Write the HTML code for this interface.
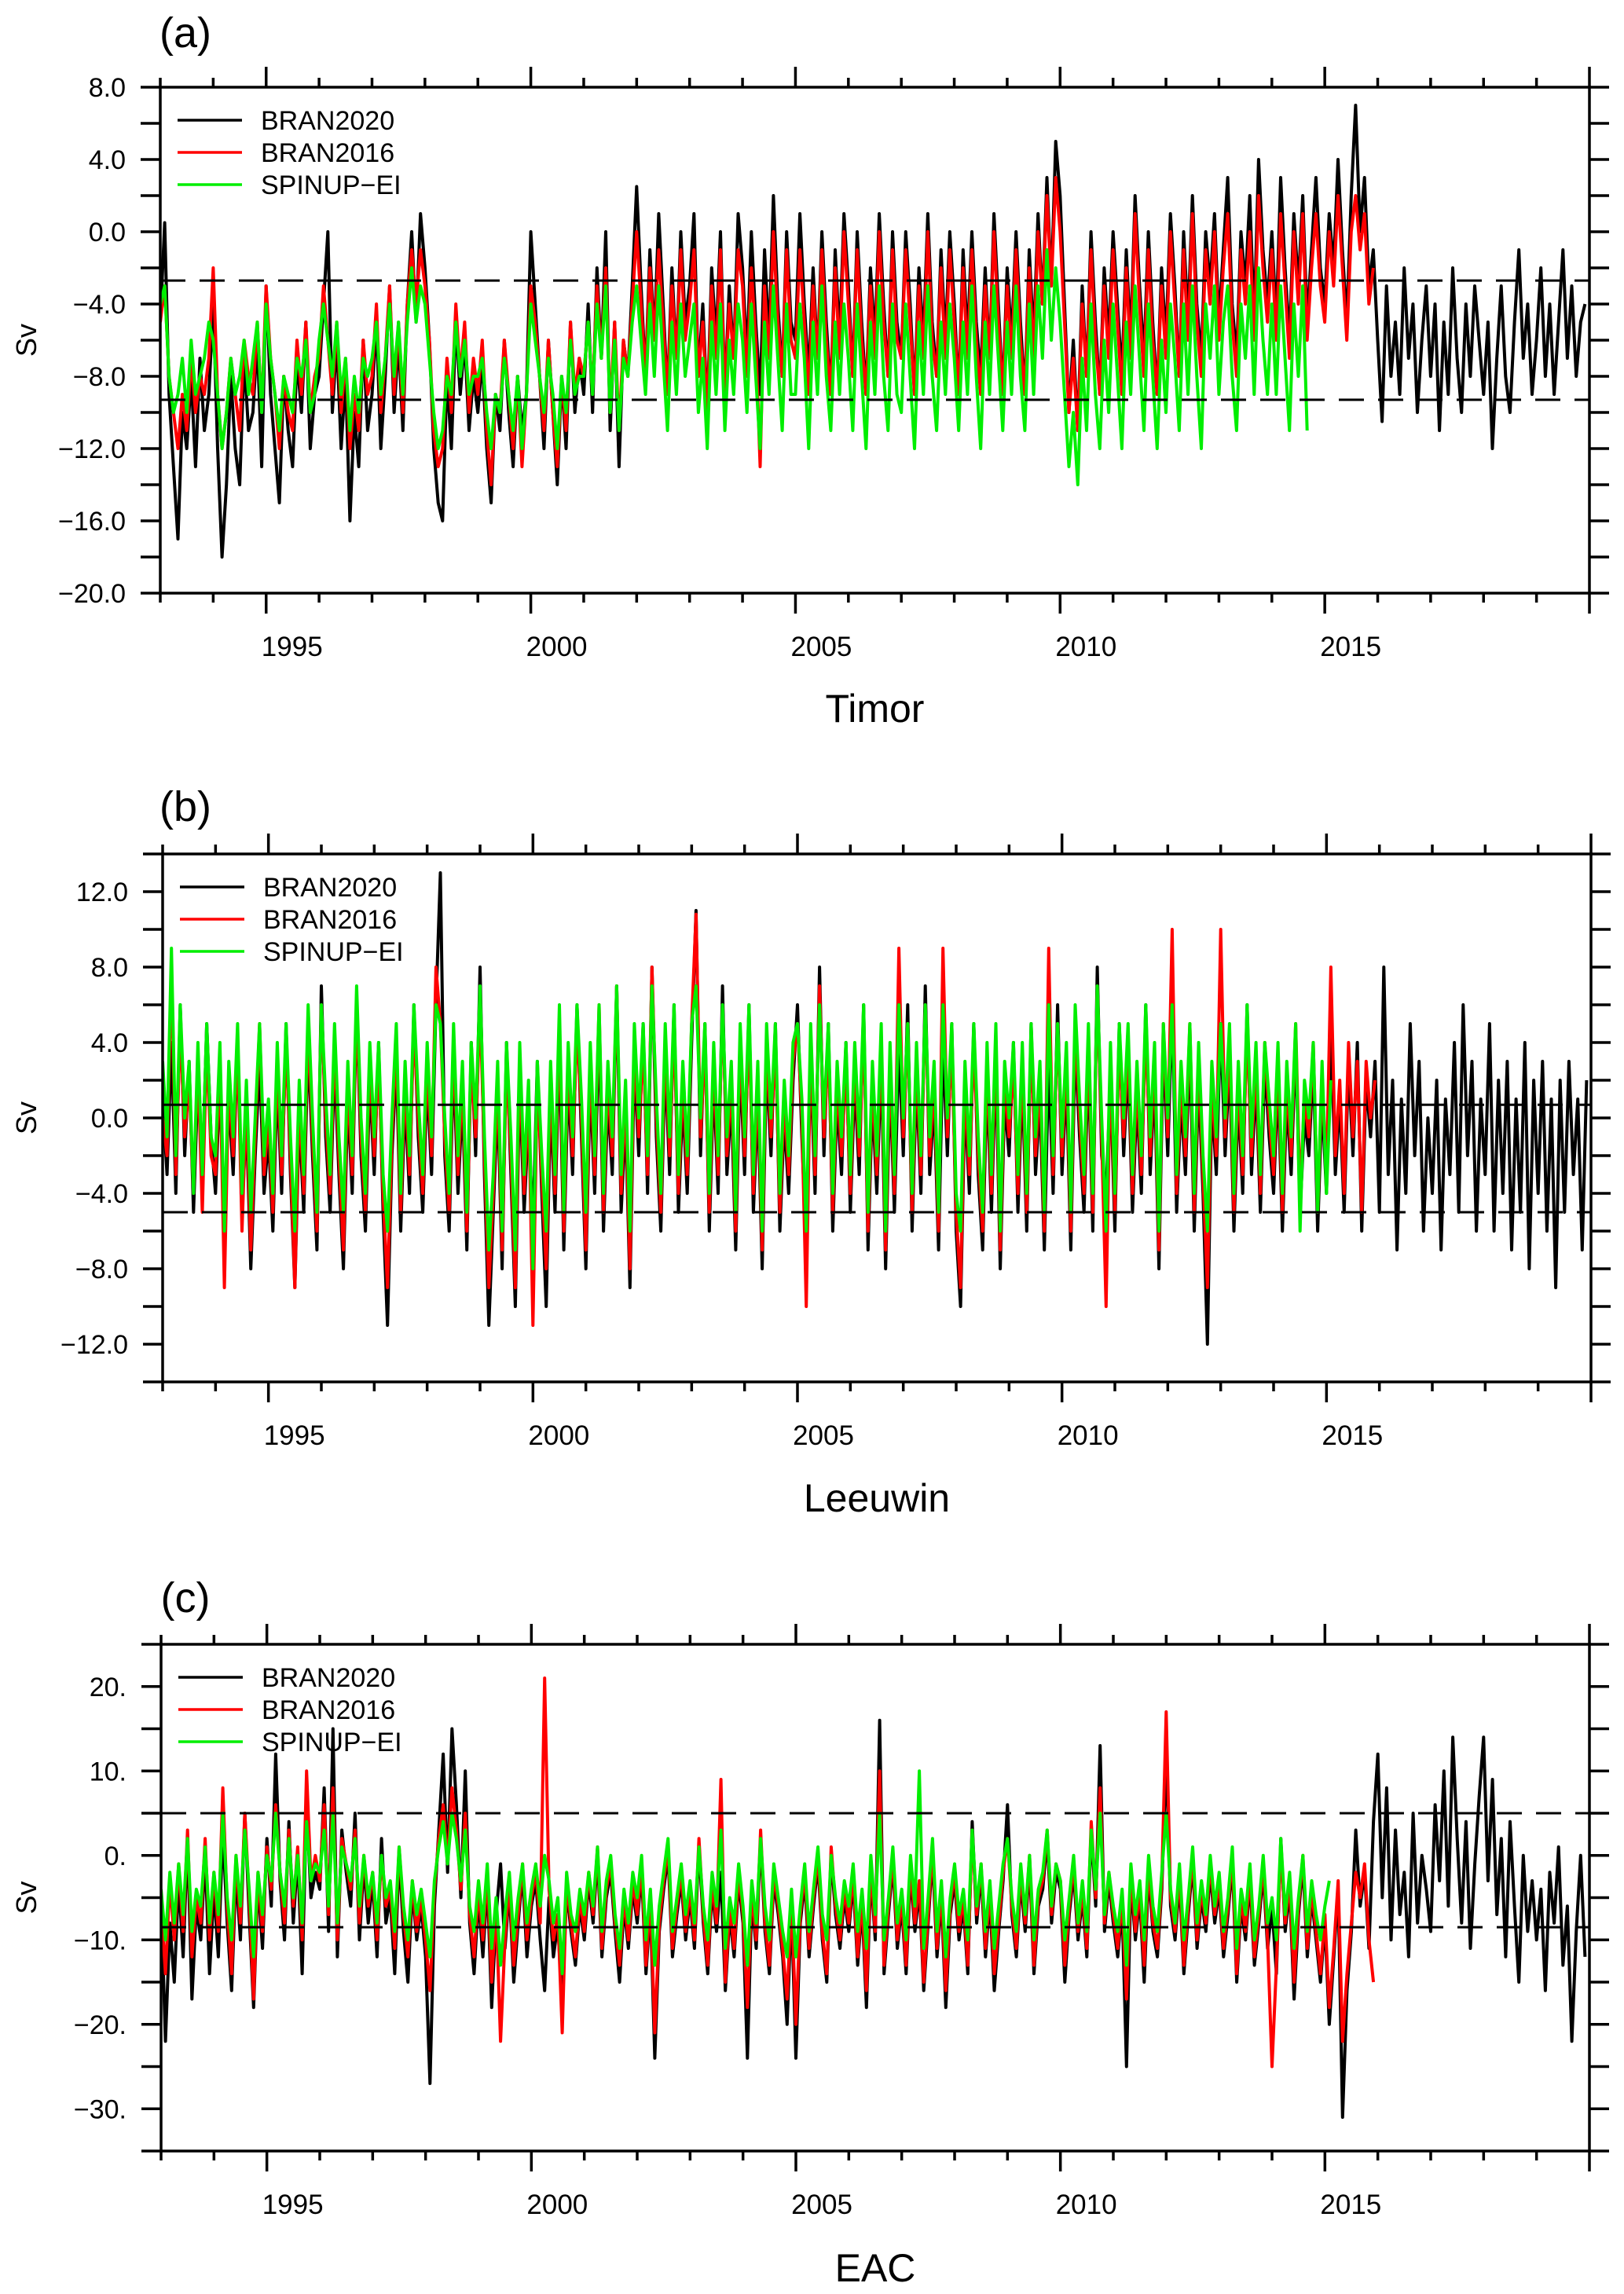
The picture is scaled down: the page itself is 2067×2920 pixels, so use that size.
<!DOCTYPE html>
<html><head><meta charset="utf-8"><style>
html,body{margin:0;padding:0;background:#fff;}
svg{display:block;font-family:"Liberation Sans",sans-serif;}
</style></head><body>
<svg id="fig" width="2067" height="2920" viewBox="0 0 2067 2920" xmlns="http://www.w3.org/2000/svg"></svg>
<script>
// ---------- Panel (a) Timor ----------
const timorBran2020 = [
-5,0.5,-9,-13,-17,-10,-12,-8,-13,-7,-11,-9,
-4,-12,-18,-14,-8,-12,-14,-7,-11,-10,-6,-13,
-3,-9,-12,-15,-8,-11,-13,-7,-10,-5,-12,-9,
-8,-4,0,-10,-6,-12,-8,-16,-10,-13,-6,-11,
-9,-5,-12,-8,-3,-10,-6,-11,-4,0,-5,1,
-2,-6,-12,-15,-16,-8,-12,-5,-9,-6,-11,-8,
-10,-7,-12,-15,-9,-11,-6,-10,-13,-8,-11,-9,
0,-4,-8,-12,-6,-10,-14,-8,-12,-5,-10,-7,
-9,-4,-10,-2,-7,0,-11,-5,-13,-6,-8,-3,
2.5,-3,-8,-1,-6,1,-4,-9,-2,-7,0,-5,
-3,1,-8,-4,-10,-2,-6,0,-9,-3,-7,1,
-2,-7,0,-5,-9,-1,-6,2,-4,-8,0,-5,
-6,1,-4,-8,-2,-7,0,-5,-9,-1,-6,1,
-3,-8,0,-5,-9,-2,-6,1,-4,-8,0,-5,
-7,0,-4,-9,-2,-6,1,-5,-8,-1,-6,0,
-4,-9,-1,-6,0,-5,-8,-2,-7,1,-4,-9,
-2,-6,0,-5,-9,-1,-6,1,-4,3,-3,5,
2,-4,-10,-6,-11,-3,-8,0,-5,-9,-2,-6,
0,-4,-8,-1,-6,2,-3,-7,0,-5,-9,-2,
-6,1,-3,-8,0,-5,2,-4,-7,0,-3,1,
-5,-1,3,-4,-7,0,-3,2,-5,4,-1,-4,
0,-5,3,-2,-6,1,-3,2,-5,-1,3,-2,
-4,1,-2,4,-1,-5,2,7,0,3,-3,-1,
-6,-10.5,-3,-8,-5,-9,-2,-7,-4,-10,-6,-3,
-8,-4,-11,-5,-9,-2,-7,-10,-4,-8,-3,-6,
-9,-5,-12,-7,-3,-8,-10,-5,-1,-7,-4,-9,
-6,-2,-8,-4,-9,-5,-1,-7,-3,-8,-5,-4];
const timorBran2016 = [
-5,-3,-8,-10,-12,-9,-11,-7,-10,-8,-9,-7,
-2,-9,-12,-10,-7,-9,-11,-6,-8,-9,-5,-10,
-3,-7,-9,-12,-8,-10,-11,-6,-9,-5,-10,-8,
-7,-3,-6,-9,-5,-10,-7,-12,-9,-11,-6,-9,
-8,-4,-10,-7,-3,-9,-5,-10,-4,-1,-4,-1,
-3,-6,-11,-13,-12,-7,-10,-4,-8,-5,-10,-7,
-9,-6,-11,-14,-9,-10,-6,-9,-12,-8,-13,-9,
-3,-5,-8,-11,-6,-10,-13,-8,-11,-5,-9,-7,
-8,-5,-9,-3,-7,-2,-10,-5,-11,-6,-8,-4,
0,-4,-8,-2,-6,-1,-5,-9,-3,-7,-1,-6,
-4,-1,-8,-5,-10,-3,-7,-1,-9,-4,-7,-1,
-3,-8,-2,-6,-13,-3,-7,0,-5,-8,-1,-6,
-7,-1,-5,-9,-3,-7,-1,-6,-9,-2,-7,0,
-4,-8,-1,-6,-9,-3,-7,0,-5,-8,-1,-6,
-7,-1,-5,-9,-3,-7,0,-6,-8,-2,-7,-1,
-5,-9,-2,-7,-1,-6,-9,-3,-7,0,-5,-9,
-3,-7,-1,-6,-9,-2,-7,0,-4,2,-3,3,
0,-5,-10,-7,-11,-4,-8,-1,-6,-9,-3,-7,
-1,-5,-9,-2,-7,1,-4,-8,-1,-6,-9,-3,
-7,0,-4,-8,-1,-6,1,-5,-8,-1,-4,0,
-6,-2,1,-5,-8,-1,-4,0,-6,2,-2,-5,
-1,-6,1,-3,-7,0,-4,1,-6,-2,1,-3,
-5,0,-3,2,-2,-6,0,2,-1,1,-4,-2];
const timorSpinup = [
-4,-3,-8,-10,-9,-7,-10,-6,-9,-8,-7,-5,
-6,-9,-12,-10,-7,-9,-8,-6,-9,-7,-5,-10,
-4,-7,-9,-11,-8,-9,-10,-7,-8,-6,-10,-9,
-6,-4,-6,-8,-5,-9,-7,-11,-8,-10,-7,-8,
-7,-5,-9,-7,-4,-8,-5,-9,-5,-2,-5,-3,
-4,-7,-10,-12,-11,-8,-9,-5,-8,-6,-9,-8,
-8,-7,-10,-12,-9,-10,-7,-9,-11,-8,-12,-9,
-4,-6,-8,-10,-7,-9,-12,-8,-10,-6,-9,-8,
-8,-5,-9,-4,-7,-3,-10,-6,-11,-7,-8,-5,
-3,-6,-9,-4,-8,-3,-7,-11,-5,-9,-4,-8,
-6,-4,-10,-7,-12,-5,-9,-4,-11,-6,-9,-4,
-6,-10,-4,-8,-12,-5,-9,-3,-7,-11,-4,-9,
-9,-4,-7,-12,-5,-9,-3,-8,-11,-5,-9,-4,
-7,-11,-4,-8,-12,-5,-9,-3,-8,-11,-4,-9,
-10,-4,-8,-12,-5,-9,-3,-8,-11,-5,-9,-4,
-7,-11,-5,-9,-3,-8,-12,-5,-9,-3,-7,-11,
-5,-9,-3,-8,-11,-4,-9,-3,-7,-1,-6,-2,
-5,-9,-13,-10,-14,-7,-11,-4,-9,-12,-6,-10,
-4,-8,-12,-5,-9,-3,-7,-11,-4,-8,-12,-6,
-10,-4,-7,-11,-4,-9,-3,-8,-12,-4,-7,-3,
-9,-5,-3,-8,-11,-4,-7,-3,-9,-2,-6,-9,
-4,-9,-3,-7,-11,-4,-8,-3,-11];
const timorMeanLines = [-2.7, -9.3];
const timorTicks = ["8.0","4.0","0.0","-4.0","-8.0","-12.0","-16.0","-20.0"];

// ---------- Panel (b) Leeuwin ----------
const leeuwinBran2020 = [
1,-3,4,-4,6,-2,3,-5,2,-3,5,-1,
-4,2,-6,1,-3,4,-5,0,-8,-2,3,-4,
-1,-6,2,-4,5,-3,-9,0,-5,4,-2,-7,
7,-1,-5,3,-3,-8,1,-4,6,-2,-6,2,
-3,4,-5,-11,-2,3,-6,1,-4,6,-1,-5,
2,-3,6,13,-2,-6,3,-4,1,-7,4,-2,
8,-3,-11,-5,1,-8,4,-3,-10,2,-5,0,
-6,3,-4,-10,1,-5,4,-7,2,-3,6,-1,
-8,2,-4,5,-6,1,-3,7,-5,0,-9,3,
-2,5,-4,8,-1,-6,3,-3,6,-5,1,-4,
4,11,-2,5,-6,2,-4,7,-3,1,-7,3,
-3,6,-5,1,-8,3,-2,5,-6,0,-4,2,
6,-1,-7,3,-4,8,-2,5,-6,1,-3,4,
-5,2,-3,6,-7,1,-4,3,-8,2,-5,4,
-2,6,-6,2,-4,7,-3,1,-7,4,-2,5,
-6,-10,1,-4,5,-3,-7,2,-5,3,-8,1,
-2,4,-5,2,-6,5,-3,1,-7,3,-4,6,
-3,2,-7,4,-1,-5,3,-6,8,-2,-4,2,
-6,5,-2,3,-5,1,-4,6,-3,2,-8,4,
-2,6,-5,1,-3,4,-6,2,-4,-12,1,-3,
5,-2,3,-6,1,-4,6,-3,2,-5,3,-1,
-4,2,-6,1,-3,4,-5,0,-2,3,-6,1,
-4,5,-3,1,-5,3,-2,4,-6,2,-1,3,
-5,8,-3,2,-7,1,-4,5,-2,3,-6,0,
-4,2,-7,1,-3,4,-5,6,-2,3,-6,1,
-3,5,-6,2,-4,3,-7,1,-5,4,-8,2,
-4,3,-6,1,-9,2,-5,3,-3,1,-7,2];
const leeuwinBran2016 = [
0,-2,8,-3,5,-1,2,-4,3,-5,4,-2,
-3,3,-9,2,-2,4,-6,1,-7,-1,5,-3,
0,-5,3,-3,4,-2,-9,1,-4,5,-1,-6,
6,0,-4,4,-2,-7,2,-3,6,-1,-5,3,
-2,3,-4,-9,-1,4,-5,2,-3,5,0,-4,
3,-2,8,5,-1,-5,4,-3,2,-6,3,-1,
6,-2,-9,-4,2,-7,3,-2,-9,3,-4,1,
-11,2,-3,-8,2,-4,5,-6,3,-2,5,0,
-7,3,-3,6,-5,2,-2,7,-4,1,-8,4,
-1,4,-3,8,0,-5,4,-2,5,-4,2,-3,
5,10.8,-1,4,-5,3,-3,6,-2,2,-6,4,
-2,5,-4,2,-7,4,-1,4,-5,1,-3,3,
5,0,-10,4,-3,7,-1,4,-5,2,-2,3,
-4,3,-2,5,-6,2,-3,4,-7,3,-4,9,
-1,5,-5,3,-3,6,-2,2,-6,9,-1,4,
-5,-9,2,-3,4,-2,-6,3,-4,4,-7,2,
-1,3,-4,3,-5,4,-2,2,-6,9,-3,5,
-2,3,-6,5,0,-4,4,-5,7,-1,-10,3,
-5,4,-1,4,-4,2,-3,5,-2,3,-7,5,
-1,10,-4,2,-2,5,-5,3,-3,-9,2,-2,
10,-1,4,-5,2,-3,5,-2,3,-4,4,0,
-3,3,-5,2,-2,5,-4,1,-1,4,-5,2,
-3,8,-2,2,-4,4,-1,3,-5,3,0,2];
const leeuwinSpinup = [
3,-1,9,-2,6,0,3,-4,4,-3,5,-1,
-2,4,-6,3,-1,5,-4,2,-5,0,5,-2,
1,-4,4,-2,5,-1,-6,2,-3,6,0,-5,
6,1,-3,5,-1,-5,3,-2,7,0,-4,4,
-1,4,-3,-6,0,5,-4,3,-2,6,1,-3,
4,-1,6,5,0,-4,5,-2,3,-5,4,0,
7,-1,-7,-3,3,-6,4,-1,-7,4,-3,2,
-8,3,-2,-6,3,-3,6,-5,4,-1,6,1,
-5,4,-2,6,-4,3,-1,7,-3,2,-6,5,
0,5,-2,7,1,-4,5,-1,6,-3,3,-2,
5,7,0,5,-4,4,-2,6,-1,3,-5,5,
-1,6,-3,3,-6,5,0,5,-4,2,-2,4,
5,1,-6,5,-2,6,0,5,-4,3,-1,4,
-3,4,-1,6,-5,3,-2,5,-6,4,-3,6,
0,5,-4,4,-2,6,-1,3,-5,6,0,5,
-4,-6,3,-2,5,-1,-5,4,-3,5,-6,3,
0,4,-3,4,-4,5,-1,3,-5,6,-2,5,
-1,4,-5,6,1,-3,5,-4,7,0,-6,4,
-4,5,0,5,-3,3,-2,6,-1,4,-6,5,
0,6,-3,3,-1,5,-4,4,-2,-6,3,-1,
5,0,5,-4,3,-2,6,-1,4,-3,4,1,
-2,4,-4,3,-1,5,-6,2,0,4,-5,3,
-4,2];
const leeuwinMeanLines = [0.7, -5.0];
const leeuwinTicks = ["12.0","8.0","4.0","0.0","-4.0","-8.0","-12.0"];

// ---------- Panel (c) EAC ----------
const eacBran2020 = [
-5,-22,-8,-15,-3,-12,2,-17,-6,-10,0,-14,
-4,-12,3,-8,-16,-2,-10,5,-7,-18,-3,-11,
2,-6,12,-3,-10,4,-8,0,-14,6,-5,-2,
-4,8,-9,15,-12,3,-2,-6,5,-10,-1,-8,
-3,-12,2,-8,-5,-14,0,-9,-15,-4,-10,-6,
-12,-27,-6,3,12,-2,15,6,-5,10,-8,-14,
-5,-12,-3,-18,-7,-1,-11,-4,-15,-8,-2,-12,
-6,-3,-10,-16,-5,-12,-8,-18,-4,-9,-13,-6,
-10,-3,-8,0,-12,-5,-2,-9,-15,-6,-11,-4,
-8,-2,-14,-6,-24,-9,-4,0,-12,-7,-3,-10,
-5,-11,1,-8,-14,-4,-9,-2,-16,-7,-12,-3,
-8,-24,-5,-11,2,-9,-14,-3,-7,-12,-20,-6,
-24,-8,-3,-12,-6,-1,-10,-15,0,-7,-11,-5,
-9,-3,-13,-6,-18,-2,-10,16,-14,-7,-1,-11,
-6,-14,-2,-9,-4,-16,-8,0,-12,-5,-18,-7,
-3,-10,-6,-14,4,-8,-2,-12,-5,-16,-9,-3,
6,-7,-12,-3,-9,-1,-14,-6,-4,2,-8,-2,
-4,-15,-7,-2,-10,-5,-12,3,-6,13,-9,-3,
-8,-12,-6,-25,-3,-10,-5,-15,-2,-9,-12,-4,
12,-6,-10,-3,-14,-7,-1,-11,-5,-9,-2,-8,
-4,-12,-7,-1,-15,-6,-10,-3,-13,-8,-2,-11,
-6,-14,2,-9,-4,-17,-7,-1,-12,-5,-10,-15,
-8,-20,-12,-4,-31,-16,-9,3,-6,-2,-11,4,
12,-5,8,-10,3,-7,-2,-12,5,-8,0,-4,
-9,6,-3,10,-6,14,2,-8,4,-11,-1,7,
14,-3,9,-7,2,-12,4,-6,-15,0,-9,-3,
-10,-4,-16,-2,-8,1,-13,-6,-22,-9,0,-12];
const eacBran2016 = [
-6,-14,-3,-10,-1,-9,3,-12,-5,-8,2,-10,
-2,-9,8,-6,-14,0,-8,5,-5,-17,-2,-9,
1,-4,6,-2,-8,3,-6,1,-10,10,-3,0,
-3,6,-7,8,-10,2,-1,-4,3,-8,0,-6,
-2,-10,0,-6,-4,-11,1,-7,-12,-3,-9,-5,
-10,-16,-4,2,6,-1,8,3,-4,5,-7,-12,
-4,-10,-2,-15,-6,-22,-10,-3,-13,-7,-1,-10,
-5,-2,-8,21,-4,-10,-7,-21,-3,-8,-12,-5,
-9,-2,-7,1,-11,-4,-1,-8,-13,-5,-10,-3,
-7,-1,-13,-5,-21,-8,-3,1,-11,-6,-2,-9,
-4,-10,2,-7,-13,-3,-8,9,-15,-6,-11,-2,
-7,-18,-4,-10,3,-8,-13,-2,-6,-11,-17,-5,
-20,-7,-2,-11,-5,0,-9,-14,1,-6,-10,-4,
-8,-2,-12,-5,-16,-1,-9,10,-13,-6,0,-10,
-5,-13,-1,-8,-3,-15,-7,1,-11,-4,-16,-6,
-2,-9,-5,-13,3,-7,-1,-11,-4,-14,-8,-2,
2,-6,-11,-2,-8,0,-13,-5,-3,3,-7,-1,
-3,-13,-6,-1,-9,-4,-11,4,-5,8,-8,-2,
-7,-11,-5,-17,-2,-9,-4,-13,-1,-8,-11,-3,
17,-5,-9,-2,-13,-6,0,-10,-4,-8,-1,-7,
-3,-11,-6,0,-14,-5,-9,-2,-12,-7,-1,-10,
-25,-13,1,-8,-3,-15,-6,0,-11,-4,-9,-14,
-7,-18,-11,-3,-22,-14,-8,-2,-5,-1,-10,-15];
const eacSpinup = [
-4,-10,-2,-8,-1,-7,2,-9,-4,-6,1,-8,
-2,-7,5,-5,-10,0,-6,3,-4,-12,-2,-7,
0,-3,5,-2,-6,2,-5,0,-8,4,-3,-1,
-2,3,-6,5,-8,1,-1,-3,2,-6,0,-5,
-2,-8,0,-5,-3,-9,1,-6,-10,-3,-7,-4,
-8,-12,-3,1,4,-1,5,2,-3,3,-6,-9,
-3,-8,-1,-11,-5,-13,-7,-2,-10,-5,-1,-8,
-4,-1,-6,0,-3,-8,-5,-14,-2,-7,-9,-4,
-7,-2,-6,1,-9,-3,0,-7,-11,-4,-8,-2,
-5,0,-10,-4,-13,-6,-2,2,-9,-5,-1,-7,
-3,-8,1,-6,-10,-2,-6,3,-11,-5,-8,-1,
-6,-13,-3,-8,2,-6,-10,-1,-5,-9,-12,-4,
-12,-6,-1,-9,-4,1,-7,-10,0,-5,-8,-3,
-6,-1,-9,-4,-11,0,-7,5,-10,-5,1,-8,
-4,-10,0,-6,10,-11,-5,2,-9,-3,-12,-5,
-1,-7,-4,-10,3,-6,-1,-9,-3,-11,-6,-1,
2,-5,-9,-1,-7,0,-10,-4,-2,3,-6,-1,
-3,-10,-5,0,-8,-3,-9,3,-4,5,-7,-2,
-6,-9,-4,-13,-1,-7,-3,-10,0,-6,-9,-2,
5,-4,-8,-1,-10,-5,1,-8,-3,-7,0,-6,
-2,-9,-5,1,-11,-4,-7,-1,-10,-6,0,-8,
-5,-10,2,-7,-2,-11,-5,0,-9,-3,-7,-10,
-6,-3];
const eacMeanLines = [5, -8.5];
const eacTicks = ["20.","10.","0.","-10.","-20.","-30."];
const eacTickValues = [20,10,0,-10,-20,-30];

const yearLabels = ["1995","2000","2005","2010","2015"];
const seriesNames = ["BRAN2020","BRAN2016","SPINUP-EI"];
const startYear = 1993.0, stepYears = 1/12, xMin = 1993, xMax = 2020;

const NS = "http://www.w3.org/2000/svg";
const svg = document.getElementById("fig");
function mk(tag, attrs, parent){ const e=document.createElementNS(NS,tag); for(const k in attrs) e.setAttribute(k,attrs[k]); (parent||svg).appendChild(e); return e; }

const panels = [
 {key:"a", letter:"(a)", title:"Timor", L:204,R:2023,T:111,B:755, ymin:-20,ymax:8, minor:2,
  tickVals:[8,4,0,-4,-8,-12,-16,-20], tickLabels:timorTicks,
  series:[timorBran2020,timorBran2016,timorSpinup], means:timorMeanLines, letterY:60, titleY:919},
 {key:"b", letter:"(b)", title:"Leeuwin", L:207,R:2025,T:1087,B:1759, ymin:-14,ymax:14, minor:2,
  tickVals:[12,8,4,0,-4,-8,-12], tickLabels:leeuwinTicks,
  series:[leeuwinBran2020,leeuwinBran2016,leeuwinSpinup], means:leeuwinMeanLines, letterY:1045, titleY:1924},
 {key:"c", letter:"(c)", title:"EAC", L:205,R:2023,T:2093,B:2738, ymin:-35,ymax:25, minor:5,
  tickVals:eacTickValues, tickLabels:eacTicks,
  series:[eacBran2020,eacBran2016,eacSpinup], means:eacMeanLines, letterY:2052, titleY:2904}
];
const colors = ["#000000","#ff0000","#00ee00"];

panels.forEach(p=>{
  const g = mk("g",{});
  
  
  const xs = yr => p.L + (yr - xMin)/(xMax - xMin)*(p.R - p.L);
  const ys = v => p.B - (v - p.ymin)/(p.ymax - p.ymin)*(p.B - p.T);

  const cp = mk("clipPath",{id:"clip-"+p.key}, g);
  mk("rect",{x:p.L,y:p.T,width:p.R-p.L,height:p.B-p.T}, cp);

  p.series.forEach((arr,si)=>{
    let d="";
    arr.forEach((v,i)=>{ const x=xs(startYear+i*stepYears), y=ys(v); d+=(i?"L":"M")+x.toFixed(1)+" "+y.toFixed(1); });
    const path = mk("path",{d:d,fill:"none",stroke:colors[si],"stroke-width":4,"stroke-linejoin":"round","clip-path":"url(#clip-"+p.key+")"}, g);
    
    
  });

  p.means.forEach((m,mi)=>{
    const ln = mk("line",{x1:p.L,x2:p.R,y1:ys(m),y2:ys(m),stroke:"#000","stroke-width":3,"stroke-dasharray":"32 18"}, g);
    
    
  });

  const fr = mk("rect",{x:p.L,y:p.T,width:p.R-p.L,height:p.B-p.T,fill:"none",stroke:"#000","stroke-width":3.5}, g);
  
  

  for(let yr=xMin; yr<=xMax; yr++){
    const x=xs(yr), major=(yr%5===0), len=major?26:12;
    mk("line",{x1:x,x2:x,y1:p.T,y2:p.T-len,stroke:"#000","stroke-width":3.5}, g);
    mk("line",{x1:x,x2:x,y1:p.B,y2:p.B+len,stroke:"#000","stroke-width":3.5}, g);
  }
  yearLabels.forEach(lb=>{
    const t = mk("text",{x:xs(+lb)+33,y:p.B+80,"font-size":35,"text-anchor":"middle",fill:"#000"}, g);
    t.textContent=lb;
    
    
  });

  for(let v=p.ymin; v<=p.ymax+1e-9; v+=p.minor){
    const y=ys(v);
    mk("line",{x1:p.L,x2:p.L-25,y1:y,y2:y,stroke:"#000","stroke-width":3.5}, g);
    mk("line",{x1:p.R,x2:p.R+25,y1:y,y2:y,stroke:"#000","stroke-width":3.5}, g);
  }
  p.tickVals.forEach((v,i)=>{
    const t = mk("text",{x:p.L-44,y:ys(v)+12,"font-size":34,"text-anchor":"end",fill:"#000"}, g);
    t.textContent=p.tickLabels[i].replace("-","\u2212");
    
    
  });

  const yt = mk("text",{x:0,y:0,"font-size":36,"text-anchor":"middle",fill:"#000",transform:"translate(46,"+((p.T+p.B)/2)+") rotate(-90)"}, g);
  yt.textContent="Sv";
  
  

  const lt = mk("text",{x:236,y:p.letterY,"font-size":54,"text-anchor":"middle",fill:"#000"}, g);
  lt.textContent=p.letter;
  
  

  const xt = mk("text",{x:(p.L+p.R)/2,y:p.titleY,"font-size":50,"text-anchor":"middle",fill:"#000"}, g);
  xt.textContent=p.title;
  
  

  seriesNames.forEach((nm,i)=>{
    const y = p.T + 42 + i*41;
    const lg = mk("g",{}, g);
    
    
    mk("line",{x1:p.L+22,x2:p.L+104,y1:y,y2:y,stroke:colors[i],"stroke-width":3.5}, lg);
    const t = mk("text",{x:p.L+128,y:y+12,"font-size":34,fill:"#000"}, lg);
    t.textContent = nm.replace("-","\u2212");
  });
});
</script>
</body></html>
